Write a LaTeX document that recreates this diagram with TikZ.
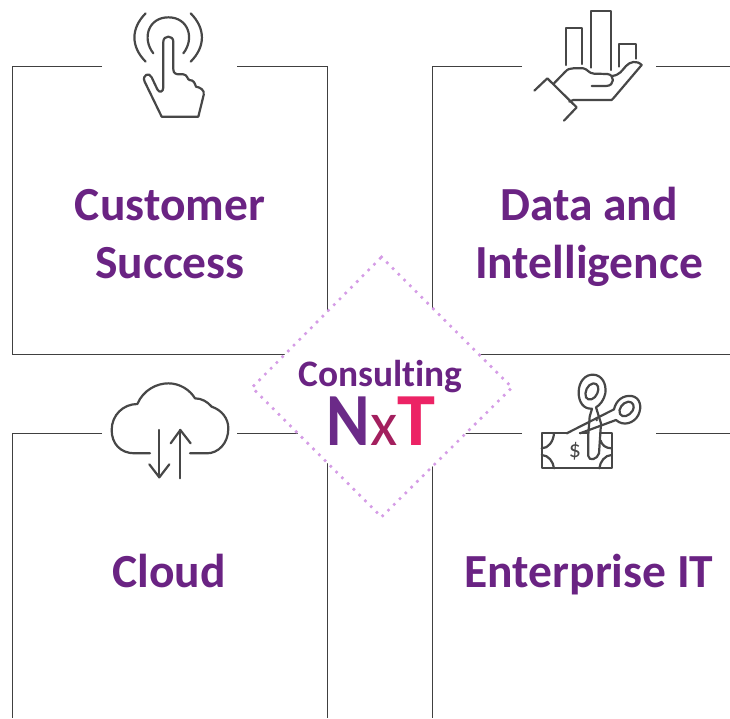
\documentclass[tikz,border=0pt]{standalone}
\usepackage{fontspec}
\setmainfont{Carlito}[Ligatures=NoCommon]
\definecolor{txtp}{HTML}{6A2383}
\definecolor{dotp}{HTML}{D59CE6}
\definecolor{linec}{HTML}{404040}
\definecolor{iconc}{HTML}{474747}
\definecolor{nC}{HTML}{6B2A88}
\definecolor{xC}{HTML}{A31F5E}
\definecolor{tC}{HTML}{EC2365}
\tikzset{
  boxline/.style={draw=linec,line width=1pt},
  title/.style={font=\fontsize{47.5}{58}\selectfont\bfseries,text=txtp,align=center,inner sep=0pt,anchor=base},
  iconline/.style={draw=iconc,line width=2.2pt,line cap=round,line join=round},
  diamondline/.style={draw=dotp,fill=white,line width=3.6pt,line cap=round,dash pattern=on 0pt off 8.15pt},
  logoletter/.style={inner sep=0pt,anchor=base},
  zoomed/.style={x=0.33333pt,y=-0.33333pt}
}
\begin{document}
\begin{tikzpicture}[x=1pt,y=-1pt]
\useasboundingbox (0,0) rectangle (730,718);
% frames
\draw[boxline] (102,66) -- (12,66) -- (12,354) -- (327,354) -- (327,66) -- (237,66);
\draw[boxline] (522,66) -- (432,66) -- (432,354) -- (730,354);
\draw[boxline] (656,66) -- (730,66);
\draw[boxline] (102,433) -- (12,433) -- (12,718);
\draw[boxline] (237,433) -- (327,433) -- (327,718);
\draw[boxline] (522,433) -- (432,433) -- (432,718);
\draw[boxline] (656,433) -- (730,433);
% centre diamond
\draw[diamondline] (381.5,257) -- (512,387.5) -- (381.5,517) -- (252,387.5) -- cycle;
% titles
\node[title] (customer) at (170,278.5) {Customer\\Success};
\node[title] (data) at (589,278.5) {Data and\\Intelligence};
\node[title] (cloud) at (169,587) {Cloud};
\node[title] (enterprise) at (589,587) {Enterprise IT};
\node[font=\fontsize{37.4}{40}\selectfont\bfseries,text=txtp,inner sep=0pt,anchor=base] (consulting) at (380.5,386) {Consulting};
% logo
\node[logoletter,text=nC,font=\fontsize{75}{75}\selectfont\bfseries,xscale=0.88] (logoN) at (348.5,445) {N};
\node[logoletter,text=xC,font=\fontsize{63}{63}\selectfont] (logox) at (384,445) {x};
\node[logoletter,text=tC,font=\fontsize{75}{75}\selectfont\bfseries,xscale=1.02] (logoT) at (416.5,445) {T};
% icon: touch
\begin{scope}[shift={(100,0)},zoomed]
\draw[iconline] (137,40) .. controls (92,85) and (92,140) .. (137,185);
\draw[iconline] (272,40) .. controls (317,85) and (317,140) .. (272,185);
\draw[iconline] (160,160) .. controls (125,115) and (145,52) .. (205,52) .. controls (265,52) and (285,115) .. (250,160);
\draw[iconline] (190,262) -- (190,125) .. controls (190,105) and (220,105) .. (220,125) -- (220,208) .. controls (220,220) and (228,223) .. (238,223) -- (250,223) .. controls (262,224) and (262,238) .. (268,240) .. controls (282,240) and (284,250) .. (288,260) .. controls (300,262) and (315,270) .. (311,285) -- (295,350) -- (185,350) -- (134,245) .. controls (125,225) and (148,215) .. (155,232) -- (172,268) .. controls (178,280) and (190,276) .. (190,262) -- cycle;
\end{scope}
% icon: hand with bars
\begin{scope}[shift={(520,0)},zoomed]
\draw[iconline] (137,195) -- (137,83) -- (187,83) -- (187,192);
\draw[iconline] (212,203) -- (212,33) -- (272,33) -- (272,210);
\draw[iconline] (298,200) -- (298,133) -- (348,133) -- (348,176);
\draw[iconline] (43,272) -- (82,235) -- (170,322) -- (132,362);
\draw[iconline] (100,252) -- (135,216) .. controls (143,207) and (150,205) .. (160,205) -- (190,205) .. controls (203,207) and (205,220) .. (222,221) -- (262,222) .. controls (285,224) and (285,258) .. (258,258) -- (215,258);
\draw[iconline] (276,228) .. controls (300,225) and (305,212) .. (318,198) .. controls (330,185) and (350,180) .. (365,195) -- (280,295) -- (275,300) -- (160,300) -- (148,305);
\end{scope}
% icon: cloud
\begin{scope}[shift={(100,380)},zoomed]
\draw[iconline] (150,220) -- (105,220) .. controls (60,220) and (35,190) .. (35,150) .. controls (35,105) and (70,72) .. (112,72) .. controls (130,30) and (170,10) .. (205,10) .. controls (240,10) and (270,30) .. (285,55) .. controls (305,55) and (322,65) .. (335,80) .. controls (365,90) and (385,115) .. (385,145) .. controls (385,190) and (355,220) .. (320,220) -- (270,220);
\draw[iconline] (178,150) -- (178,292);
\draw[iconline] (148,253) -- (178,292) -- (208,253);
\draw[iconline] (241,295) -- (241,150);
\draw[iconline] (212,190) -- (241,150) -- (272,190);
\end{scope}
% icon: scissors and banknote
\begin{scope}[shift={(530,370)},zoomed]
\draw[iconline] (110,190) -- (35,190) -- (35,295) -- (245,295) -- (245,190) -- (210,190);
\draw[iconline] (150,190) -- (172,190);
\draw[iconline] (35,235) .. controls (55,235) and (70,215) .. (72,190);
\draw[iconline] (35,255) .. controls (55,255) and (70,275) .. (72,295);
\draw[iconline] (245,235) .. controls (228,235) and (215,225) .. (212,212);
\draw[iconline] (245,255) .. controls (225,255) and (210,275) .. (208,295);
% left handle
\draw[iconline] (186,116) .. controls (160,118) and (145,95) .. (146,65) .. controls (147,35) and (165,13) .. (190,14) .. controls (215,15) and (230,40) .. (226,70) .. controls (222,90) and (210,105) .. (198,112) -- (213,160) -- (207,250) .. controls (203,268) and (176,275) .. (175,258) -- (175,192) -- (179,140) -- (186,116);
\draw[iconline] (190,40) .. controls (205,40) and (208,55) .. (202,70) .. controls (195,88) and (175,95) .. (168,82) .. controls (162,68) and (172,42) .. (190,40) -- cycle;
% right handle
\draw[iconline] (110,190) -- (252,118) .. controls (258,90) and (280,75) .. (305,78) .. controls (330,82) and (337,110) .. (325,135) .. controls (312,160) and (280,170) .. (258,150) -- (150,190);
\draw[iconline] (295,95) .. controls (310,95) and (315,110) .. (308,122) .. controls (298,138) and (278,145) .. (270,132) .. controls (263,118) and (278,97) .. (295,95) -- cycle;
\fill[iconc] (200,150) circle [radius=4];
\node[text=iconc,font=\fontsize{24}{24}\selectfont,inner sep=0pt] (dollar) at (135,245) {\$};
\end{scope}
\end{tikzpicture}
\end{document}
